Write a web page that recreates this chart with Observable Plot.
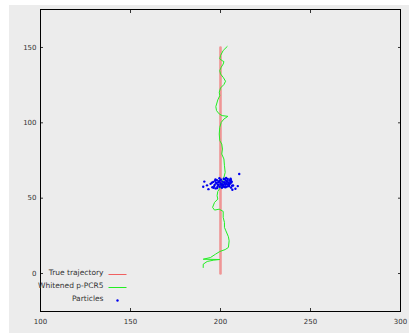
<!DOCTYPE html>
<html><head><meta charset="utf-8">
<script src="https://cdn.jsdelivr.net/npm/d3@7"></script>
<script src="https://cdn.jsdelivr.net/npm/@observablehq/plot@0.6"></script>
<style>
html,body{margin:0;padding:0;background:#fff;width:409px;height:333px;overflow:hidden;}
#bg{position:absolute;left:9px;top:5px;width:400px;height:328px;background:#ececec;}
#chart{position:absolute;left:0;top:0;}
</style></head>
<body><div id="bg"></div><div id="chart"></div>
<script>
const trueX = [200, 200];
const trueY = [0, 150];

const pcrX = [190.4,190.4,192.6,196.3,199.6,190.4,194.4,197.2,199.6,202.6,204.4,204.8,204.4,203.0,202.2,202.2,201.5,201.5,199.3,196.7,195.6,196.7,198.5,198.1,198.5,200.0,200.9,201.9,202.6,202.2,201.9,200.7,201.1,200.7,199.6,199.3,199.6,200.4,201.9,204.1,200.9,199.3,197.8,197.4,198.5,199.6,199.3,200.0,201.9,202.8,201.5,200.0,199.6,200.4,201.5,201.9,200.9,199.6,200.0,201.5,203.7];
const pcrY = [4.0,6.2,8.0,8.9,9.3,9.5,10.6,12.8,14.6,15.9,17.3,21.7,24.4,28.3,30.6,33.9,37.2,41.2,42.7,42.1,43.9,47.2,49.4,51.6,54.5,57.1,59.8,63.8,67.1,71.5,76.0,79.3,82.6,85.9,88.2,92.6,97.0,100.3,102.5,104.3,104.8,105.9,108.1,110.7,115.2,118.0,120.3,123.1,125.4,127.6,130.2,132.4,134.7,136.9,139.0,140.6,141.3,142.4,144.6,148.0,150.6];

const partX = [190.4,191.0,193.3,192.5,194.5,195.5,196.0,196.5,197.0,197.3,197.8,198.0,198.4,198.8,199.0,199.3,199.6,200.0,200.3,200.6,201.0,201.3,201.6,202.0,202.3,202.6,203.0,203.3,203.6,204.0,204.3,204.6,205.0,205.3,205.6,206.0,206.4,197.2,198.2,199.4,200.8,201.8,202.8,203.8,204.8,205.8,196.8,198.6,200.2,202.4,204.2,206.2,197.6,199.8,201.4,203.4,205.4,207.0,208.3,209.6,210.4,206.6,205.9,195.2,196.2,203.1,200.5,198.9,204.9,202.1];
const partY = [57.6,61.0,56.0,58.5,59.5,57.2,60.8,58.0,61.5,56.5,59.8,62.0,57.8,60.5,58.8,61.2,57.5,60.0,62.3,58.4,61.0,59.2,57.8,60.6,62.5,58.9,61.7,59.5,57.7,62.8,60.2,58.6,61.9,59.7,63.0,60.4,58.3,62.4,56.8,63.2,56.9,62.9,57.2,61.3,57.9,62.1,58.9,59.0,59.6,60.1,59.1,61.0,60.2,61.8,58.1,60.9,60.7,58.4,56.3,58.0,66.0,55.6,57.0,60.2,56.9,63.4,58.7,60.9,59.4,57.4];

const xTicks = [100, 150, 200, 250, 300];
const yTicks = [0, 50, 100, 150];
const legendLabels = ["True trajectory", "Whitened p-PCR5", "Particles"];
const legendColors = ["#f06060", "#22ee22", "#0000ee"];

const trueData = trueX.map((x, i) => ({x, y: trueY[i]}));
const pcrData = pcrX.map((x, i) => ({x, y: pcrY[i]}));
const partData = partX.map((x, i) => ({x, y: partY[i]}));

const font = "DejaVu Sans, sans-serif";
const txt = "#333";

const hline = {draw(ctx, size) { ctx.moveTo(-9, 0); ctx.lineTo(9, 0); }};
const rowDy = [-37, -24, -11];

const legendMarks = legendLabels.flatMap((label, i) => [
  Plot.text([label], {frameAnchor: "bottom-left", text: d => d, textAnchor: "end", fill: txt, fontSize: 7.5, dx: 63, dy: rowDy[i]}),
  i < 2
    ? Plot.dot([label], {frameAnchor: "bottom-left", symbol: hline, stroke: legendColors[i], strokeWidth: 1, dx: 77, dy: rowDy[i]})
    : Plot.dot([label], {frameAnchor: "bottom-left", r: 1.2, fill: legendColors[i], stroke: "none", dx: 77, dy: rowDy[i]})
]);

const plot = Plot.plot({
  width: 409, height: 333,
  marginLeft: 40, marginRight: 9, marginTop: 9, marginBottom: 22,
  style: {background: "transparent", fontFamily: font, fontSize: "7px", color: txt},
  x: {domain: [100, 300]},
  y: {domain: [-25.2, 175.2]},
  marks: [
    Plot.line(trueData, {x: "x", y: "y", stroke: "#f08080", strokeOpacity: 0.8, strokeWidth: 2.6}),
    Plot.line(pcrData, {x: "x", y: "y", stroke: "#22ee22", strokeWidth: 1}),
    Plot.dot(partData, {x: "x", y: "y", r: 1.2, fill: "#0000ee", stroke: "none"}),
    Plot.axisX({anchor: "bottom", ticks: xTicks, tickSize: 0, tickPadding: 8, label: null, fill: txt}),
    Plot.axisX({anchor: "bottom", ticks: xTicks.slice(1, -1), tickSize: -3, tickFormat: () => "", label: null}),
    Plot.axisX({anchor: "top", ticks: xTicks.slice(1, -1), tickSize: -3, tickFormat: () => "", label: null}),
    Plot.axisY({anchor: "left", ticks: yTicks, tickSize: 0, tickPadding: 4, label: null, fill: txt}),
    Plot.axisY({anchor: "left", ticks: yTicks, tickSize: -3, tickFormat: () => "", label: null}),
    Plot.axisY({anchor: "right", ticks: yTicks, tickSize: -3, tickFormat: () => "", label: null}),
    Plot.frame({stroke: "#000", strokeWidth: 1}),
    ...legendMarks
  ]
});
document.getElementById("chart").appendChild(plot);
</script>
</body></html>
